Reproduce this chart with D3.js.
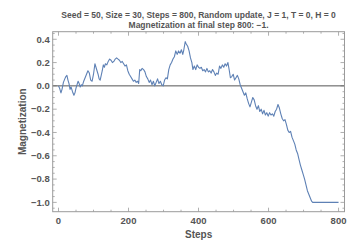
<!DOCTYPE html>
<html>
<head>
<meta charset="utf-8">
<script src="https://cdn.jsdelivr.net/npm/d3@7"></script>
<style>
  body { margin: 0; background: #fff; }
  text { font-family: "Liberation Sans", Arial, sans-serif; font-weight: bold; fill: #555; }
</style>
</head>
<body>
<div id="chart-area"></div>
<script>
var width = 348, height = 244;
var margin = {top: 31.7, right: 3.5, bottom: 32.3, left: 52.7};

var titleLines = ["Seed = 50, Size = 30, Steps = 800, Random update, J = 1, T = 0, H = 0",
                  "Magnetization at final step 800: \u22121."];
var xTicks = [0, 200, 400, 600, 800];
var yTicks = [-1.0, -0.8, -0.6, -0.4, -0.2, 0.0, 0.2, 0.4];

// magnetization
var steps = [0,3,7,10,14,18,21,24,27,30,33,36,40,44,47,50,53,56,59,62,65,68,72,76,80,84,88,92,96,100,
  104,107,110,113,116,119,122,125,128,131,134,138,142,146,150,154,158,162,166,170,174,178,182,186,190,194,198,
  202,206,210,214,218,222,226,229,232,235,239,243,247,251,255,259,263,267,271,275,279,283,287,291,295,299,
  303,307,311,315,319,323,327,331,335,339,343,347,351,355,358,362,365,369,373,377,381,384,388,392,396,400,
  404,408,412,416,420,424,428,432,436,440,444,448,452,456,460,464,468,472,476,480,484,488,491,495,499,
  503,507,511,515,519,523,527,531,535,539,543,547,551,555,559,563,567,571,575,579,583,587,591,595,599,
  603,607,611,615,619,623,627,631,635,639,643,647,651,655,659,663,667,671,675,679,683,687,691,695,699,
  703,707,711,715,719,723,726,800];
var magnet = [0.0,-0.02,-0.06,-0.03,0.03,0.06,0.08,0.09,0.05,0.02,-0.03,-0.01,-0.05,-0.08,-0.06,-0.02,0.01,0.04,0.02,-0.01,0.01,0.0,0.04,0.07,0.10,0.13,0.11,0.05,0.04,0.10,
  0.19,0.16,0.13,0.10,0.06,0.05,0.09,0.13,0.18,0.16,0.19,0.18,0.21,0.23,0.22,0.20,0.21,0.23,0.24,0.23,0.22,0.20,0.21,0.19,0.17,0.18,0.13,
  0.10,0.08,0.06,0.04,0.05,0.03,0.04,0.02,0.14,0.13,0.15,0.14,0.12,0.08,0.06,0.03,0.05,0.01,0.04,0.0,0.03,0.06,0.02,0.04,0.01,0.0,
  0.05,0.07,0.06,0.14,0.18,0.20,0.23,0.25,0.30,0.27,0.30,0.28,0.31,0.27,0.31,0.38,0.36,0.34,0.30,0.24,0.20,0.14,0.17,0.14,0.18,0.16,
  0.15,0.16,0.13,0.14,0.12,0.15,0.12,0.13,0.11,0.14,0.12,0.09,0.11,0.10,0.17,0.15,0.18,0.16,0.19,0.17,0.20,0.13,0.07,0.08,0.10,
  0.05,0.07,0.09,0.06,0.01,-0.02,-0.05,-0.08,-0.06,-0.11,-0.15,-0.18,-0.14,-0.10,-0.12,-0.17,-0.20,-0.17,-0.22,-0.20,-0.24,-0.21,-0.25,-0.23,-0.26,
  -0.23,-0.25,-0.24,-0.26,-0.22,-0.20,-0.16,-0.19,-0.24,-0.28,-0.30,-0.29,-0.33,-0.38,-0.40,-0.39,-0.44,-0.47,-0.50,-0.55,-0.58,-0.63,-0.68,-0.72,-0.76,
  -0.80,-0.85,-0.90,-0.93,-0.96,-0.99,-1.0,-1.0];

var data = steps.map(function(s, i) { return {step: s, m: magnet[i]}; });

var svg = d3.select("#chart-area").append("svg")
  .attr("width", width).attr("height", height);

var x = d3.scaleLinear().domain([-16.6, 817]).range([margin.left, width - margin.right]);
var y = d3.scaleLinear().domain([-1.08, 0.465]).range([height - margin.bottom, margin.top]);

var x0 = x.range()[0], x1 = x.range()[1], y0 = y.range()[0], y1 = y.range()[1];
var frameColor = "#9a9a9a";

// ticks on all four sides
var xMinor = d3.range(0, 801, 50);
var yMinor = d3.range(-1.05, 0.451, 0.05);
var tk = svg.append("g").attr("stroke", frameColor).attr("stroke-width", 0.8);
xMinor.forEach(function(v) {
  var len = (v % 200 === 0) ? 4 : 2;
  tk.append("line").attr("x1", x(v)).attr("x2", x(v)).attr("y1", y0).attr("y2", y0 - len);
  tk.append("line").attr("x1", x(v)).attr("x2", x(v)).attr("y1", y1).attr("y2", y1 + len);
});
yMinor.forEach(function(v) {
  var major = Math.abs(Math.round(v * 10) - v * 10) < 1e-6 && Math.round(v * 10) % 2 === 0;
  var len = major ? 4 : 2;
  tk.append("line").attr("y1", y(v)).attr("y2", y(v)).attr("x1", x0).attr("x2", x0 + len);
  tk.append("line").attr("y1", y(v)).attr("y2", y(v)).attr("x1", x1).attr("x2", x1 - len);
});

// zero line
svg.append("line")
  .attr("x1", x0).attr("x2", x1).attr("y1", y(0)).attr("y2", y(0))
  .attr("stroke", "#555").attr("stroke-width", 1);

// the walk
var line = d3.line().x(function(d) { return x(d.step); }).y(function(d) { return y(d.m); });
svg.append("path").datum(data)
  .attr("d", line)
  .attr("fill", "none")
  .attr("stroke", "#5e81b5")
  .attr("stroke-width", 1.1)
  .attr("stroke-linejoin", "round");

// frame
svg.append("rect")
  .attr("x", x0).attr("y", y1).attr("width", x1 - x0).attr("height", y0 - y1)
  .attr("fill", "none").attr("stroke", frameColor).attr("stroke-width", 1);

// tick labels
svg.append("g").selectAll("text").data(xTicks).enter().append("text")
  .attr("x", function(d) { return x(d); })
  .attr("y", y0 + 12)
  .attr("text-anchor", "middle")
  .style("font-size", "9.5px")
  .text(function(d) { return d; });

svg.append("g").selectAll("text").data(yTicks).enter().append("text")
  .attr("x", x0 - 3)
  .attr("y", function(d) { return y(d) + 3.3; })
  .attr("text-anchor", "end")
  .style("font-size", "9.5px")
  .text(function(d) { return (d < 0 ? "\u2212" : "") + Math.abs(d).toFixed(1); });

// axis labels
svg.append("text")
  .attr("x", (x0 + x1) / 2).attr("y", 238)
  .attr("text-anchor", "middle")
  .style("font-size", "10px")
  .text("Steps");

svg.append("text")
  .attr("transform", "translate(26," + ((y0 + y1) / 2) + ") rotate(-90)")
  .attr("text-anchor", "middle")
  .style("font-size", "10px")
  .text("Magnetization");

// title
svg.append("g").selectAll("text").data(titleLines).enter().append("text")
  .attr("x", (x0 + x1) / 2)
  .attr("y", function(d, i) { return 18 + i * 9.5; })
  .attr("text-anchor", "middle")
  .style("font-size", "8.5px")
  .style("fill", "#555")
  .text(function(d) { return d; });
</script>
</body>
</html>
